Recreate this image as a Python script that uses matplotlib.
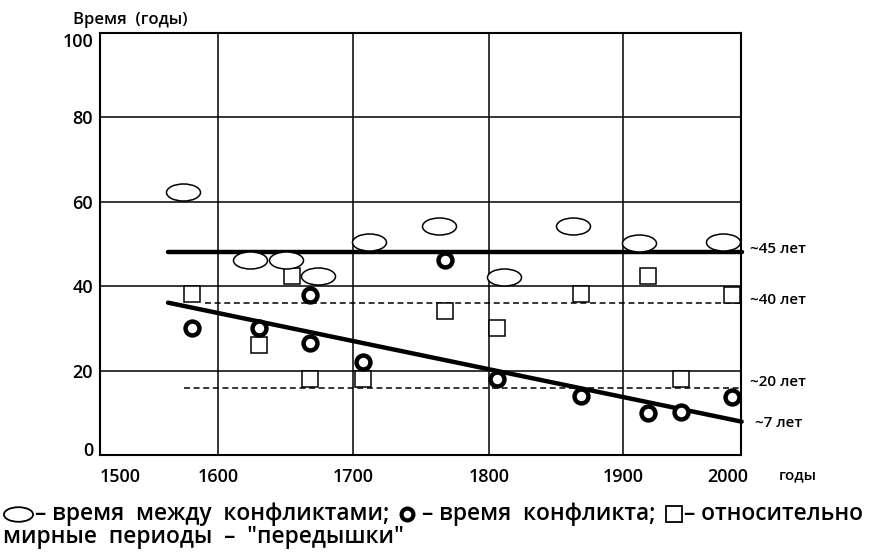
import matplotlib
matplotlib.use("Agg")
import matplotlib.pyplot as plt
import numpy as np
from matplotlib.lines import Line2D
from matplotlib.path import Path
from matplotlib.transforms import Affine2D, ScaledTranslation, blended_transform_factory

plt.rcParams['font.family'] = ['Open Sans', 'DejaVu Sans']
plt.rcParams['font.weight'] = 'semibold'

# время между конфликтами (эллипсы)
gap_years = [1564, 1624, 1650, 1674, 1712, 1763, 1811, 1863, 1915, 1995]
gap_values = [62.4, 46.3, 46.3, 42.5, 50.5, 54.3, 42.2, 54.3, 50.3, 50.5]

# время конфликта (кружки)
war_years = [1573, 1630, 1668, 1668, 1707, 1768, 1806, 1869, 1924, 1955, 2004]
war_values = [30.2, 30.2, 38.0, 26.6, 22.1, 46.3, 18.1, 13.9, 10.0, 10.2, 13.8]

# передышки (квадраты)
rest_years = [1573, 1630, 1655, 1668, 1707, 1768, 1806, 1869, 1924, 1955, 2004]
rest_values = [38.2, 26.1, 42.4, 18.1, 18.1, 34.2, 30.0, 38.2, 42.3, 18.1, 38.0]

# уровни и тренд
level_x, level_y = [1549, 2013], [48.1, 48.1]
upper_dash_x, upper_dash_y = [1587, 2013], [36.1, 36.1]
lower_dash_x, lower_dash_y = [1565, 2013], [15.9, 15.9]
trend_x, trend_y = [1549, 2013], [36.1, 7.9]

side_labels = ['~45 лет', '~40 лет', '~20 лет', '~7 лет']
side_values = [48.9, 36.8, 17.4, 7.7]

x_ticks = [1500, 1600, 1700, 1800, 1900, 2000]
y_ticks = [0, 20, 40, 60, 80, 100]

# the original time axis is drawn unevenly: piecewise linear scale
tick_pos = np.array([120, 218, 353, 489, 623, 728], dtype=float)
tick_yrs = np.array(x_ticks, dtype=float)
lo_slope = (tick_pos[1] - tick_pos[0]) / 100.0
hi_slope = (tick_pos[-1] - tick_pos[-2]) / 100.0


def fwd(x):
    x = np.asarray(x, dtype=float)
    return np.where(x < tick_yrs[0], tick_pos[0] + (x - tick_yrs[0]) * lo_slope,
                    np.where(x > tick_yrs[-1], tick_pos[-1] + (x - tick_yrs[-1]) * hi_slope,
                             np.interp(x, tick_yrs, tick_pos)))


def inv(p):
    p = np.asarray(p, dtype=float)
    return np.where(p < tick_pos[0], tick_yrs[0] + (p - tick_pos[0]) / lo_slope,
                    np.where(p > tick_pos[-1], tick_yrs[-1] + (p - tick_pos[-1]) / hi_slope,
                             np.interp(p, tick_pos, tick_yrs)))


fig = plt.figure(figsize=(8.71, 5.6), dpi=100)
ax = fig.add_axes([100 / 871, 105 / 560, 641 / 871, 422 / 560])
ax.set_xscale('function', functions=(fwd, inv))
ax.set_xlim(float(inv(100)), float(inv(741)))
ax.set_ylim(0, 100)

for yr in x_ticks[1:-1]:
    ax.axvline(yr, color='black', lw=1.1, zorder=1)
for v in y_ticks[1:-1]:
    ax.axhline(v, color='black', lw=1.1, zorder=1)

ax.plot(level_x, level_y, color='black', lw=3.2, solid_capstyle='round', zorder=2, clip_on=False)
ax.plot(trend_x, trend_y, color='black', lw=3.2, solid_capstyle='round', zorder=2, clip_on=False)
ax.plot(upper_dash_x, upper_dash_y, color='black', lw=1.1, dashes=(3.9, 2.4), zorder=2)
ax.plot(lower_dash_x, lower_dash_y, color='black', lw=1.1, dashes=(3.9, 2.4), zorder=2)

ellipse = Path.unit_circle().transformed(Affine2D().scale(1, 0.5))

ax.plot(rest_years, rest_values, ls='none', marker='s', ms=11.5, mfc='white',
        mec='black', mew=1.1, zorder=3, clip_on=False)
ax.plot(war_years, war_values, ls='none', marker='o', ms=10, mfc='white',
        mec='black', mew=3.2, zorder=4, clip_on=False)
ax.plot(gap_years, gap_values, ls='none', marker=ellipse, ms=24.5, mfc='white',
        mec='black', mew=1.1, zorder=5, clip_on=False)

for s in ax.spines.values():
    s.set_linewidth(1.5)

ax.set_xticks(x_ticks)
ax.set_xticklabels([str(t) for t in x_ticks])
ax.set_yticks(y_ticks)
ax.set_yticklabels([str(t) for t in y_ticks])
ax.xaxis.set_minor_locator(matplotlib.ticker.NullLocator())
ax.tick_params(axis='both', length=0, labelsize=13)
ax.tick_params(axis='x', pad=9)
ax.tick_params(axis='y', pad=5)

ylabels = ax.get_yticklabels()
ylabels[0].set_transform(ylabels[0].get_transform() + ScaledTranslation(0, 6 / 100, fig.dpi_scale_trans))
ylabels[-1].set_transform(ylabels[-1].get_transform() + ScaledTranslation(0, -7 / 100, fig.dpi_scale_trans))

side_tr = blended_transform_factory(ax.transAxes, ax.transData)
for lab, v in zip(side_labels, side_values):
    dx = 14 if lab.startswith('~7') else 9
    ax.text(1 + dx / 641, v, lab, transform=side_tr, fontsize=11, va='center', ha='left')

fig.text(73 / 871, 1 - 20 / 560, 'Время  (годы)', fontsize=12, va='center', ha='left')
fig.text(798 / 871, 1 - 475 / 560, 'годы', fontsize=11, va='center', ha='center')

# легенда внизу: значки и текст идут подряд в одну строку
renderer = fig.canvas.get_renderer()
LEG_SIZE = 16.4


def put_text(x, y, s):
    t = fig.text(x / 871, y, s, fontsize=LEG_SIZE, va='center', ha='left')
    return x + t.get_window_extent(renderer).width


def put_marker(x, y, width, **style):
    fig.add_artist(Line2D([(x + width / 2) / 871], [y], mfc='white', mec='black',
                          transform=fig.transFigure, **style))
    return x + width


ly1 = 1 - 514 / 560
ly2 = 1 - 537 / 560
x = put_marker(3, ly1, 30, marker=ellipse, ms=21, mew=1.3)
x = put_text(x + 2, ly1, '– время  между  конфликтами;')
x = put_marker(x + 10, ly1, 16, marker='o', ms=8.5, mew=3.0)
x = put_text(x + 7, ly1, '– время  конфликта;')
x = put_marker(x + 10, ly1, 16, marker='s', ms=11, mew=1.3)
x = put_text(x + 2, ly1, '– относительно')
put_text(3, ly2, 'мирные  периоды  –  ″передышки″')

fig.savefig('out.png', dpi=100)
